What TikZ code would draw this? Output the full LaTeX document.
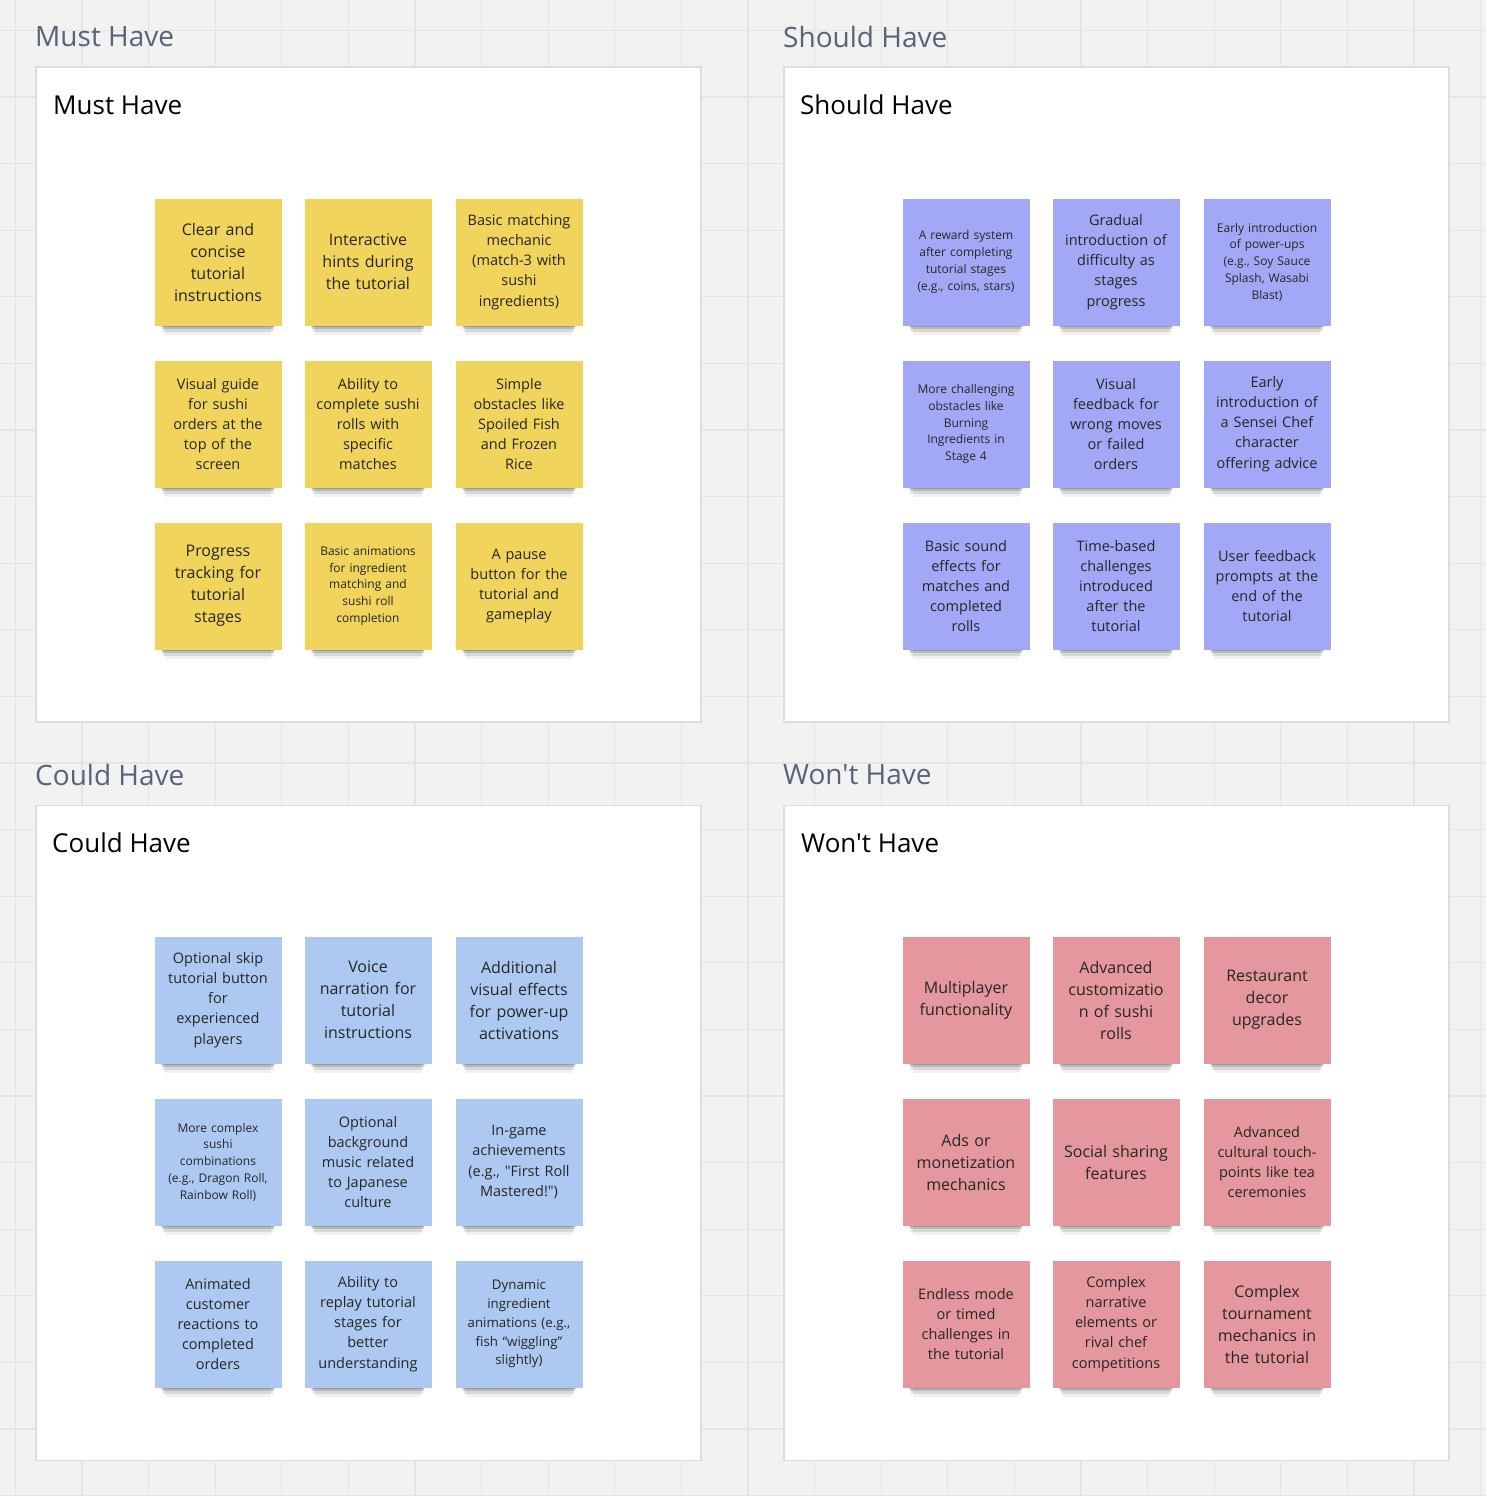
\documentclass[tikz,border=0pt]{standalone}
\usepackage{fontspec}
\usepackage{tikz}
\usetikzlibrary{shadows}
\usetikzlibrary{positioning}
\newfontfamily\notefont{Open Sans}
\definecolor{bggray}{HTML}{F1F2F2}
\definecolor{gridline}{HTML}{E3E4E4}
\definecolor{framegray}{HTML}{DCDDDE}
\definecolor{titlegray}{HTML}{5C6079}
\definecolor{notetext}{HTML}{262626}
\definecolor{noteyel}{HTML}{F1D45B}
\definecolor{notepur}{HTML}{A3A8F6}
\definecolor{noteblu}{HTML}{ADC9F1}
\definecolor{notered}{HTML}{E5979E}

\begin{document}
\begin{tikzpicture}[x=1pt,y=-1pt,
	frame/.style={draw=framegray,line width=1.5pt,fill=white,
		minimum width=665pt,minimum height=655pt},
	outertitle/.style={anchor=west,inner sep=0pt,text=titlegray,
		font=\notefont\fontsize{28}{30}\selectfont},
	innertitle/.style={anchor=west,inner sep=0pt,text=black,
		font=\notefont\fontsize{26}{28}\selectfont},
	note/.style={minimum size=127pt,inner sep=0pt,text width=121pt,
		align=center,text=notetext,
		general shadow={fill=black,opacity=.06,shadow yshift=-23pt,
			shadow scale=.84},
		general shadow={fill=black,opacity=.1,shadow yshift=-18pt,
			shadow scale=.86},
		general shadow={fill=black,opacity=.14,shadow yshift=-13pt,
			shadow scale=.88},
		general shadow={fill=black,opacity=.16,shadow yshift=-9pt,
			shadow scale=.9}},
	yel/.style={fill=noteyel},
	pur/.style={fill=notepur},
	blu/.style={fill=noteblu},
	red/.style={fill=notered},
	big/.style={font=\notefont\fontsize{16}{22}\selectfont},
	mid/.style={font=\notefont\fontsize{14.5}{20.2}\selectfont},
	sml/.style={font=\notefont\fontsize{12}{16.8}\selectfont},
	dyn/.style={font=\notefont\fontsize{13.3}{18.8}\selectfont}]
\useasboundingbox (0,0) rectangle (1486,1496);
\fill [bggray] (0,0) rectangle (1486,1496);
\foreach \gx in {0,...,22}
	\draw [gridline,line width=1.2pt] ({15.4+66.6*\gx},0) -- ++(0,1496);
\foreach \gy in {0,...,22}
	\draw [gridline,line width=1.2pt] (0,{30.4+66.6*\gy}) -- ++(1486,0);

\node [frame] (mustframe) at (368.5,394.5) {};
\node [frame] (shouldframe) at (1116.5,394.5) {};
\node [frame] (couldframe) at (368.5,1133) {};
\node [frame] (wontframe) at (1116.5,1133) {};

\node [outertitle] (mustout) at (35,37) {Must Have};
\node [outertitle] (shouldout) at (783,37) {Should Have};
\node [outertitle] (couldout) at (35,775) {Could Have};
\node [outertitle] (wontout) at (783,775) {Won't Have};

\node [innertitle] (mustin) at (53,105) {Must Have};
\node [innertitle] (shouldin) at (800,105) {Should Have};
\node [innertitle] (couldin) at (52,843) {Could Have};
\node [innertitle] (wontin) at (801,843) {Won't Have};

\node [note,yel,big] (m1) at (218,262) {Clear and\\concise\\tutorial\\instructions};
\node [note,yel,big] (m2) at (368,262) {Interactive\\hints during\\the tutorial};
\node [note,yel,mid] (m3) at (519,262) {Basic matching\\mechanic\\(match-3 with\\sushi\\ingredients)};
\node [note,yel,mid] (m4) at (218,424) {Visual guide\\for sushi\\orders at the\\top of the\\screen};
\node [note,yel,mid] (m5) at (368,424) {Ability to\\complete sushi\\rolls with\\specific\\matches};
\node [note,yel,mid] (m6) at (519,424) {Simple\\obstacles like\\Spoiled Fish\\and Frozen\\Rice};
\node [note,yel,big] (m7) at (218,586) {Progress\\tracking for\\tutorial\\stages};
\node [note,yel,sml] (m8) at (368,586) {Basic animations\\for ingredient\\matching and\\sushi roll\\completion};
\node [note,yel,mid] (m9) at (519,586) {A pause\\button for the\\tutorial and\\gameplay};

\node [note,pur,sml] (s1) at (966,262) {A reward system\\after completing\\tutorial stages\\(e.g., coins, stars)};
\node [note,pur,mid] (s2) at (1116,262) {Gradual\\introduction of\\difficulty as\\stages\\progress};
\node [note,pur,sml] (s3) at (1267,262) {Early introduction\\of power-ups\\(e.g., Soy Sauce\\Splash, Wasabi\\Blast)};
\node [note,pur,sml] (s4) at (966,424) {More challenging\\obstacles like\\Burning\\Ingredients in\\Stage 4};
\node [note,pur,mid] (s5) at (1116,424) {Visual\\feedback for\\wrong moves\\or failed\\orders};
\node [note,pur,mid] (s6) at (1267,424) {Early\\introduction of\\a Sensei Chef\\character\\offering advice};
\node [note,pur,mid] (s7) at (966,586) {Basic sound\\effects for\\matches and\\completed\\rolls};
\node [note,pur,mid] (s8) at (1116,586) {Time-based\\challenges\\introduced\\after the\\tutorial};
\node [note,pur,mid] (s9) at (1267,586) {User feedback\\prompts at the\\end of the\\tutorial};

\node [note,blu,mid] (c1) at (218,1000) {Optional skip\\tutorial button\\for\\experienced\\players};
\node [note,blu,big] (c2) at (368,1000) {Voice\\narration for\\tutorial\\instructions};
\node [note,blu,big] (c3) at (519,1000) {Additional\\visual effects\\for power-up\\activations};
\node [note,blu,sml] (c4) at (218,1162) {More complex\\sushi\\combinations\\(e.g., Dragon Roll,\\Rainbow Roll)};
\node [note,blu,mid] (c5) at (368,1162) {Optional\\background\\music related\\to Japanese\\culture};
\node [note,blu,mid] (c6) at (519,1162) {In-game\\achievements\\(e.g., "First Roll\\Mastered!")};
\node [note,blu,mid] (c7) at (218,1324) {Animated\\customer\\reactions to\\completed\\orders};
\node [note,blu,mid] (c8) at (368,1324) {Ability to\\replay tutorial\\stages for\\better\\understanding};
\node [note,blu,dyn] (c9) at (519,1324) {Dynamic\\ingredient\\animations (e.g.,\\fish “wiggling”\\slightly)};

\node [note,red,big] (w1) at (966,1000) {Multiplayer\\functionality};
\node [note,red,big] (w2) at (1116,1000) {Advanced\\customizatio\\n of sushi\\rolls};
\node [note,red,big] (w3) at (1267,1000) {Restaurant\\decor\\upgrades};
\node [note,red,big] (w4) at (966,1162) {Ads or\\monetization\\mechanics};
\node [note,red,big] (w5) at (1116,1162) {Social sharing\\features};
\node [note,red,mid] (w6) at (1267,1162) {Advanced\\cultural touch-\\points like tea\\ceremonies};
\node [note,red,mid] (w7) at (966,1324) {Endless mode\\or timed\\challenges in\\the tutorial};
\node [note,red,mid] (w8) at (1116,1324) {Complex\\narrative\\elements or\\rival chef\\competitions};
\node [note,red,big] (w9) at (1267,1324) {Complex\\tournament\\mechanics in\\the tutorial};
\end{tikzpicture}
\end{document}
